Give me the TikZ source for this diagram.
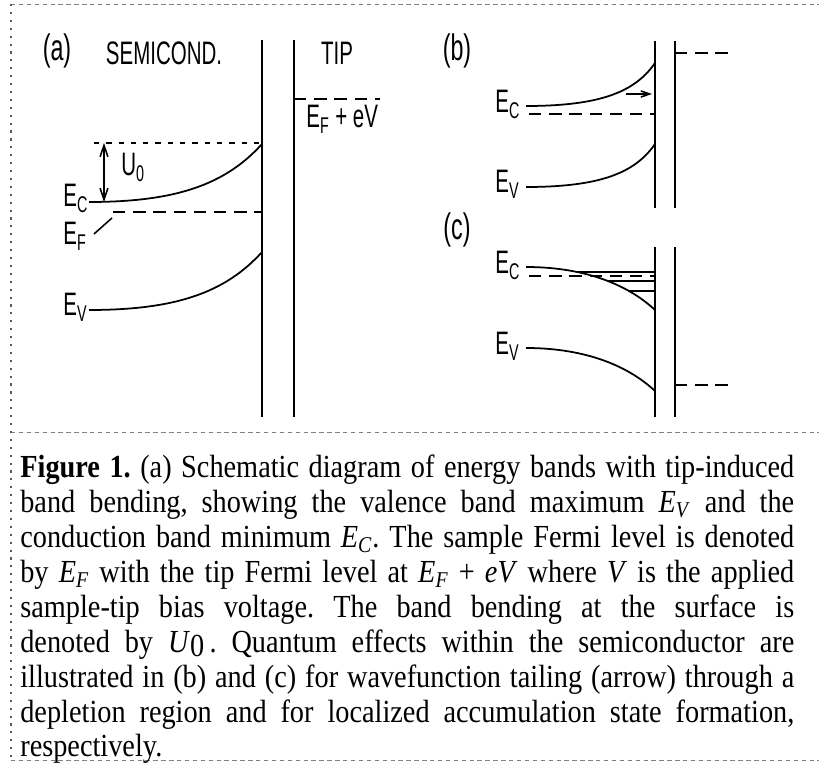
\documentclass[tikz,border=0pt]{standalone}
\usepackage{fontspec}
\setmainfont{Liberation Serif}[FakeStretch=0.88]
\newfontfamily\bandfont[FakeStretch=0.63]{Liberation Sans}
\usetikzlibrary{arrows.meta, calc, intersections, positioning}

\newcommand{\capsym}[2]{\textit{#1}\textsubscript{\textit{#2}}}

\begin{document}
\begin{tikzpicture}[x=0.02cm, y=-0.02cm,
    band/.style={line width=1pt},
    wall/.style={line width=1.1pt},
    fermi/.style={line width=1pt, dash pattern=on 7pt off 4.5pt},
    level/.style={line width=0.9pt},
    lbl/.style={font=\bandfont\fontsize{18.5}{21}\selectfont, inner sep=0pt},
    tag/.style={font=\bandfont\fontsize{21}{24}\selectfont, inner sep=0pt},
    frame/.style={gray, line width=0.5pt, dash pattern=on 2.5pt off 2pt}]
    \useasboundingbox (0,0) rectangle (819,763);

    % frame round figure and caption
    \draw[frame] (11,4) -- (819,4);
    \draw[frame] (11,432) -- (819,432);
    \draw[frame] (11,760) -- (819,760);
    \draw[gray!70!black, line width=0.9pt, dash pattern=on 1.2pt off 3.3pt] (11,4) -- (11,763);

    % (a) semiconductor | gap | tip
    \draw[wall] (262,40) -- (262,417);
    \draw[wall] (294,40) -- (294,417);
    \node[tag] (taga) at (57,51) {(a)};
    \node[lbl] (semi) at (164,53) {SEMICOND.};
    \node[lbl] (tip) at (337,53) {TIP};
    \draw[fermi] (294,99) -- (380,99);
    \node[lbl, anchor=base west] (eftip) at (306,128) {E\textsubscript{F} + eV};

    \draw[line width=0.6pt, dash pattern=on 3pt off 4pt] (94,143) -- (260,143);
    \draw[band] (89,202) .. controls (175,202) and (225,185) .. (262,144);
    \draw[fermi] (113,212) -- (262,212);
    \draw[band] (89,310) .. controls (175,310) and (225,293) .. (262,252);
    \draw[level, {Straight Barb[length=6.5pt,width=4.5pt]}-{Straight Barb[length=6.5pt,width=4.5pt]}] (104,143) -- (104,202);
    \node[lbl, anchor=base west] (u0) at (121,176) {U\textsubscript{0}};
    \node[lbl, anchor=base west] (eca) at (63,207) {E\textsubscript{C}};
    \node[lbl, anchor=base west] (efa) at (63,245) {E\textsubscript{F}};
    \node[lbl, anchor=base west] (eva) at (63,316) {E\textsubscript{V}};
    \draw[level] (94,234) -- (112,218);

    % (b) depletion, tailing
    \node[tag] (tagb) at (457,51) {(b)};
    \draw[wall] (655,41) -- (655,208);
    \draw[wall] (675,41) -- (675,208);
    \draw[fermi] (675,53) -- (733,53);
    \draw[band] (526,106) .. controls (600,106) and (635,92) .. (655,63);
    \draw[fermi] (529,114) -- (655,114);
    \draw[band] (526,187) .. controls (600,187) and (635,173) .. (655,144);
    \draw[level, -{Straight Barb[length=5pt,width=3.5pt]}] (626,94) -- (652,94);
    \node[lbl, anchor=base west] (ecb) at (495,113) {E\textsubscript{C}};
    \node[lbl, anchor=base west] (evb) at (495,193) {E\textsubscript{V}};

    % (c) accumulation states
    \node[tag] (tagc) at (457,230) {(c)};
    \draw[wall] (655,247) -- (655,417);
    \draw[wall] (675,247) -- (675,417);
    \draw[fermi] (675,385) -- (733,385);
    \draw[band, name path=ecc] (526,267) .. controls (580,267) and (625,282) .. (655,310);
    \draw[fermi] (529,276) -- (655,276);
    \foreach \ly in {272,281,291} {
        \path[name path=lev] (540,\ly) -- (655,\ly);
        \draw[level, name intersections={of=ecc and lev}] (intersection-1) -- (655,\ly);
    }
    \draw[band] (526,348) .. controls (580,348) and (625,363) .. (655,391);
    \node[lbl, anchor=base west] (ecc) at (495,274) {E\textsubscript{C}};
    \node[lbl, anchor=base west] (evc) at (495,355) {E\textsubscript{V}};

    % caption
    \node[anchor=north west, inner sep=0pt, text width=440.5pt, align=justify,
          font=\fontsize{18.3}{19.85}\selectfont] (caption) at (20,455)
      {\noindent\frenchspacing\textbf{Figure 1.} (a) Schematic diagram of energy bands with tip-induced\linebreak
       band bending, showing the valence band maximum \capsym{E}{V} and the\linebreak
       conduction band minimum \capsym{E}{C}. The sample Fermi level is denoted\linebreak
       by \capsym{E}{F} with the tip Fermi level at \capsym{E}{F} + \textit{eV} where \textit{V} is the applied\linebreak
       sample-tip bias voltage. The band bending at the surface is\linebreak
       denoted by \textit{U}\raisebox{-0.3ex}{0}\,. Quantum effects within the semiconductor are\linebreak
       illustrated in (b) and (c) for wavefunction tailing (arrow) through a\linebreak
       depletion region and for localized accumulation state formation,\linebreak
       respectively.};
\end{tikzpicture}
\end{document}
